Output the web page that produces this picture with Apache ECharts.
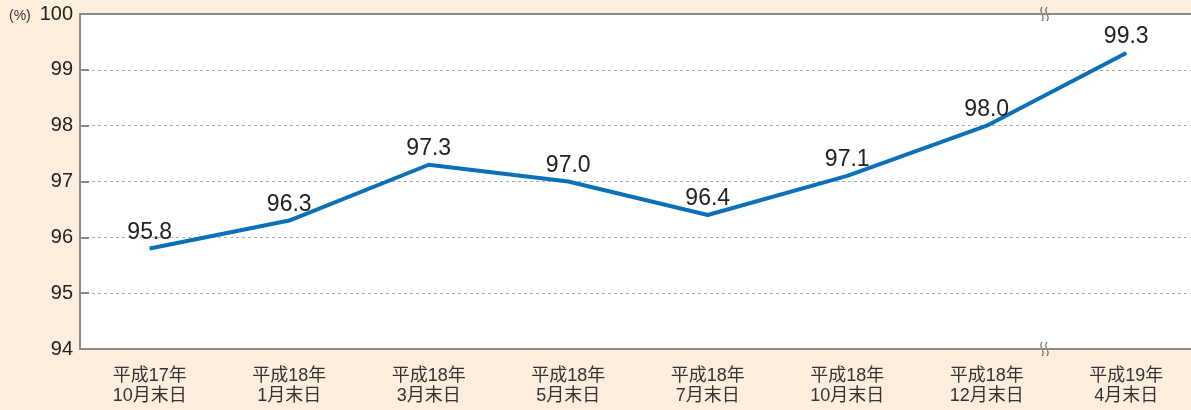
<!DOCTYPE html>
<html>
<head>
<meta charset="utf-8">
<script src="https://cdn.jsdelivr.net/npm/echarts@6/dist/echarts.min.js"></script>
<style>
  html, body { margin: 0; padding: 0; background: #fdeedd; }
  #chart { width: 1191px; height: 410px; }
</style>
</head>
<body>
<div id="chart"></div>
<script>
var categories = [
  "平成17年\n10月末日", "平成18年\n1月末日", "平成18年\n3月末日", "平成18年\n5月末日",
  "平成18年\n7月末日", "平成18年\n10月末日", "平成18年\n12月末日", "平成19年\n4月末日"
];
var rates = [95.8, 96.3, 97.3, 97.0, 96.4, 97.1, 98.0, 99.3];
var yTicks = [94, 95, 96, 97, 98, 99, 100];

var font = "'Liberation Sans', 'Noto Sans CJK JP', sans-serif";
var chart = echarts.init(document.getElementById("chart"));

// break mark on top and bottom axis
function breakMark(y) {
  var wave = function (dx) {
    return {
      type: "bezierCurve",
      shape: { x1: dx, y1: -7, cpx1: dx - 4, cpy1: -2, cpx2: dx + 4, cpy2: 2, x2: dx, y2: 7 },
      style: { stroke: "#444", lineWidth: 1, fill: null }
    };
  };
  return {
    type: "group",
    x: 1045, y: y,
    children: [
      { type: "rect", shape: { x: -4, y: -2, width: 8, height: 4 }, style: { fill: y < 100 ? "#fdeedd" : "#ffffff" } },
      wave(-3),
      wave(2)
    ]
  };
}

chart.setOption({
  backgroundColor: "#fdeedd",
  animation: false,
  grid: {
    left: 80, top: 14, width: 1116, height: 335,
    outerBoundsMode: "none",
    show: true, backgroundColor: "#ffffff", borderWidth: 0
  },
  xAxis: [{
    type: "category",
    data: categories,
    boundaryGap: true,
    axisLine: { lineStyle: { color: "#8a8a8a", width: 2 } },
    axisTick: { show: false },
    axisLabel: { color: "#333", fontSize: 18, lineHeight: 20, margin: 17, fontFamily: font }
  }, {
    // top frame line only
    type: "category",
    position: "top",
    data: categories,
    axisLine: { show: true, lineStyle: { color: "#8a8a8a", width: 2 } },
    axisTick: { show: false },
    axisLabel: { show: false }
  }],
  yAxis: {
    type: "value",
    min: 94, max: 100, interval: 1,
    axisLine: { show: true, lineStyle: { color: "#8a8a8a", width: 2 } },
    axisTick: { show: true, inside: true, length: 9, lineStyle: { color: "#8a8a8a", width: 2 } },
    axisLabel: {
      color: "#222", fontSize: 20, margin: 7, fontFamily: font,
      formatter: function (v) { return yTicks.indexOf(v) >= 0 ? String(v) : ""; }
    },
    splitLine: { show: true, lineStyle: { color: "#aaa", type: [3, 3], width: 1 } }
  },
  series: [{
    type: "line",
    data: rates,
    symbol: "circle",
    symbolSize: 1,
    itemStyle: { color: "#0a70b8" },
    lineStyle: { color: "#0a70b8", width: 4 },
    label: {
      show: true, position: "top", distance: 4,
      color: "#222", fontSize: 23, fontFamily: font,
      formatter: function (p) { return p.value.toFixed(1); }
    }
  }],
  graphic: [
    { type: "text", left: 9, top: 9, style: { text: "(%)", fontSize: 14, fill: "#333", fontFamily: font } },
    breakMark(14),
    breakMark(349)
  ]
});
</script>
</body>
</html>
